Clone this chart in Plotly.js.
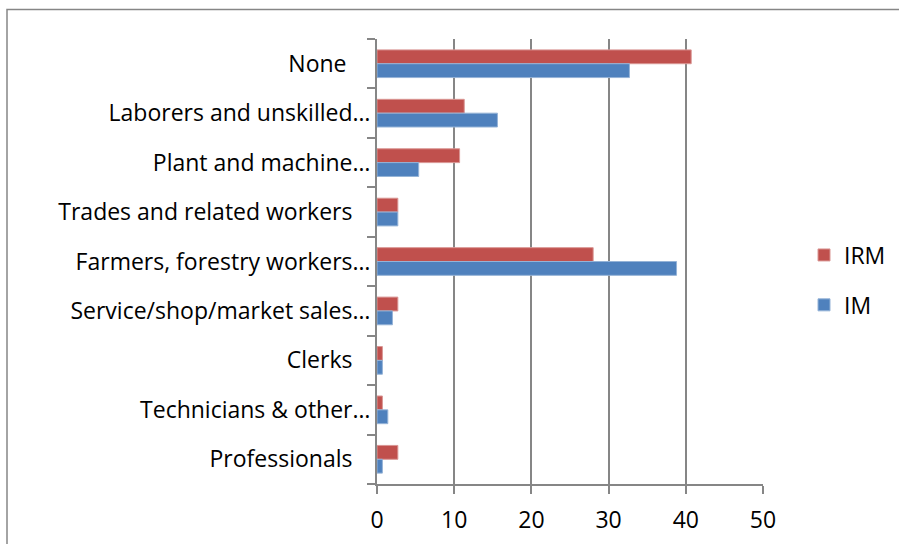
<!DOCTYPE html>
<html>
<head>
<meta charset="utf-8">
<script src="https://cdn.plot.ly/plotly-3.0.1.min.js"></script>
<style>html,body{margin:0;padding:0;background:#fff;}</style>
</head>
<body>
<div id="chart" style="width:899px;height:544px;"></div>
<script>
// Categories, top to bottom as shown
const categories = [
  "None\u00a0",
  "Laborers and unskilled\u2026",
  "Plant and machine\u2026",
  "Trades and related workers",
  "Farmers, forestry workers\u2026",
  "Service/shop/market sales\u2026",
  "Clerks",
  "Technicians & other\u2026",
  "Professionals"
];
const irmValues = [40.7, 11.3, 10.7, 2.7, 28.0, 2.7, 0.7, 0.7, 2.7];
const imValues  = [32.7, 15.6, 5.4, 2.7, 38.8, 2.0, 0.7, 1.4, 0.7];
const xTicks = [0, 10, 20, 30, 40, 50];

const GRID = '#868686';
const FONT = {family: '"Open Sans", sans-serif', size: 23, color: '#000'};

// full (non-truncated) labels are padded so they sit left like in the original
const tickText = categories.map(c => c.endsWith('\u2026') ? c : c + '\u00a0\u00a0\u00a0');

const traces = [
  {type: 'bar', orientation: 'h', name: 'IRM', y: categories, x: irmValues,
   marker: {color: '#C0504D', line: {color: '#D99694', width: 1}}, legendgroup: 'a'},
  {type: 'bar', orientation: 'h', name: 'IM', y: categories, x: imValues,
   marker: {color: '#4F81BD', line: {color: '#95B3D7', width: 1}}, legendgroup: 'b'}
];

const pl = 377, pr = 763, pt = 39, pb = 484;
const pw = pr - pl, ph = pb - pt;
const px = v => (v - pl) / pw;
const py = v => (pb - v) / ph;

const layout = {
  width: 899, height: 544,
  margin: {l: pl, r: 899 - pr, t: pt, b: 544 - pb, pad: 0},
  paper_bgcolor: '#fff', plot_bgcolor: '#fff',
  font: FONT,
  barmode: 'group', bargap: 0.44, bargroupgap: 0,
  showlegend: true,
  legend: {xref: 'container', yref: 'container',
           x: 804 / 899, xanchor: 'left', y: (544 - 280) / 544, yanchor: 'middle',
           traceorder: 'grouped', tracegroupgap: 17, font: FONT,
           bgcolor: 'rgba(0,0,0,0)'},
  xaxis: {range: [0, 50], tickvals: xTicks, ticktext: xTicks.map(String),
          showgrid: true, gridcolor: GRID, gridwidth: 2,
          zeroline: false, showline: true, linecolor: GRID, linewidth: 2,
          ticks: 'outside', ticklen: 8, tickcolor: GRID, tickwidth: 2,
          ticklabelstandoff: 6, tickfont: FONT, fixedrange: true, automargin: false},
  yaxis: {type: 'category', categoryorder: 'array', categoryarray: categories,
          tickvals: categories, ticktext: tickText,
          autorange: 'reversed', tickson: 'boundaries',
          showgrid: false, zeroline: false, showline: true, linecolor: GRID, linewidth: 2,
          ticks: 'outside', ticklen: 8, tickcolor: GRID, tickwidth: 2,
          tickfont: FONT, fixedrange: true, automargin: false},
  shapes: [{type: 'rect', xref: 'paper', yref: 'paper',
            x0: px(7), x1: px(920), y0: py(570), y1: py(9.5),
            line: {color: GRID, width: 1.5}, fillcolor: 'rgba(0,0,0,0)', layer: 'below'}]
};

Plotly.newPlot('chart', traces, layout, {displayModeBar: false, staticPlot: true});
</script>
</body>
</html>
